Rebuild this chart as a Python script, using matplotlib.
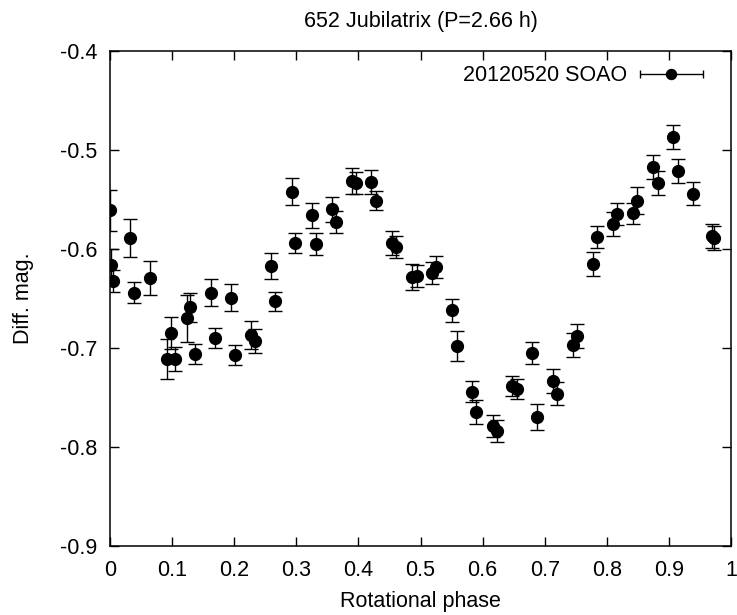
import numpy as np
import matplotlib
matplotlib.use('Agg')
import matplotlib.pyplot as plt
from matplotlib.legend_handler import HandlerErrorbar

plt.rcParams['font.family'] = ['Liberation Sans', 'DejaVu Sans']

# rotational phase, differential magnitude, error
phase = [0.000, 0.002, 0.005, 0.032, 0.039, 0.064,
         0.092, 0.098, 0.105, 0.124, 0.129, 0.137,
         0.162, 0.169, 0.195, 0.201, 0.227, 0.234,
         0.259, 0.266, 0.293, 0.298, 0.325, 0.331,
         0.357, 0.364, 0.389, 0.396, 0.421, 0.428,
         0.454, 0.461, 0.487, 0.494, 0.519, 0.525,
         0.551, 0.558, 0.583, 0.590, 0.616, 0.623,
         0.648, 0.655, 0.680, 0.687, 0.713, 0.720,
         0.745, 0.752, 0.778, 0.784, 0.810, 0.817,
         0.842, 0.849, 0.875, 0.882, 0.907, 0.914,
         0.939, 0.970, 0.972]
mag = [-0.561, -0.616, -0.632, -0.589, -0.644, -0.629,
       -0.711, -0.685, -0.711, -0.670, -0.659, -0.706,
       -0.644, -0.690, -0.649, -0.707, -0.687, -0.693,
       -0.617, -0.653, -0.542, -0.594, -0.566, -0.595,
       -0.560, -0.573, -0.531, -0.533, -0.532, -0.551,
       -0.594, -0.598, -0.628, -0.627, -0.624, -0.618,
       -0.662, -0.698, -0.744, -0.765, -0.779, -0.784,
       -0.738, -0.741, -0.705, -0.770, -0.733, -0.746,
       -0.697, -0.688, -0.615, -0.588, -0.575, -0.565,
       -0.564, -0.551, -0.517, -0.533, -0.487, -0.521,
       -0.544, -0.587, -0.589]
err = [0.021, 0.016, 0.011, 0.019, 0.011, 0.017,
       0.020, 0.016, 0.012, 0.024, 0.015, 0.010,
       0.014, 0.010, 0.014, 0.010, 0.014, 0.012,
       0.013, 0.010, 0.014, 0.010, 0.013, 0.011,
       0.013, 0.011, 0.013, 0.011, 0.012, 0.010,
       0.012, 0.011, 0.013, 0.011, 0.011, 0.011,
       0.012, 0.015, 0.011, 0.012, 0.011, 0.011,
       0.010, 0.010, 0.011, 0.013, 0.012, 0.012,
       0.012, 0.012, 0.012, 0.011, 0.012, 0.011,
       0.011, 0.014, 0.012, 0.012, 0.012, 0.012,
       0.012, 0.012, 0.012]

fs = 15.5

fig = plt.figure(figsize=(7.37, 6.15), dpi=100)
ax = fig.add_axes([0.1493, 0.1122, 0.8426, 0.8048])

ax.errorbar(phase, mag, yerr=err, fmt='o', color='black', ms=8.5,
            elinewidth=1, capsize=5, capthick=1)

# legend proxy with horizontal bar, like gnuplot
proxy = ax.errorbar([np.nan], [np.nan], xerr=[0.1], fmt='o', color='black',
                    ms=7.2, elinewidth=1, capsize=3, capthick=1,
                    label='20120520 SOAO')
ax.legend(handles=[proxy], loc='upper right', bbox_to_anchor=(0.982, 1.006),
          frameon=False, markerfirst=False,
          fontsize=fs, handlelength=2.9, borderaxespad=0.4, handletextpad=0.6,
          handler_map={type(proxy): HandlerErrorbar(xerr_size=1.45)})

ax.set_xlim(0, 1)
ax.set_ylim(-0.9, -0.4)
ax.set_xticks(np.arange(0, 1.01, 0.1))
ax.set_xticklabels(['0', '0.1', '0.2', '0.3', '0.4', '0.5', '0.6', '0.7', '0.8', '0.9', '1'])
ax.set_yticks(np.arange(-0.9, -0.39, 0.1))
ax.set_yticklabels(['-0.9', '-0.8', '-0.7', '-0.6', '-0.5', '-0.4'])
ax.tick_params(direction='in', length=6.5, width=1, top=True, right=True,
               labelsize=fs)
ax.tick_params(axis='x', pad=10)
ax.tick_params(axis='y', pad=9)
for s in ax.spines.values():
    s.set_linewidth(1.1)

ax.set_xlabel('Rotational phase', fontsize=fs, labelpad=7.5)
ax.set_ylabel('Diff. mag.', fontsize=fs, labelpad=19)
ax.set_title('652 Jubilatrix (P=2.66 h)', fontsize=fs, pad=17.5)

plt.savefig('out.png', dpi=100)
